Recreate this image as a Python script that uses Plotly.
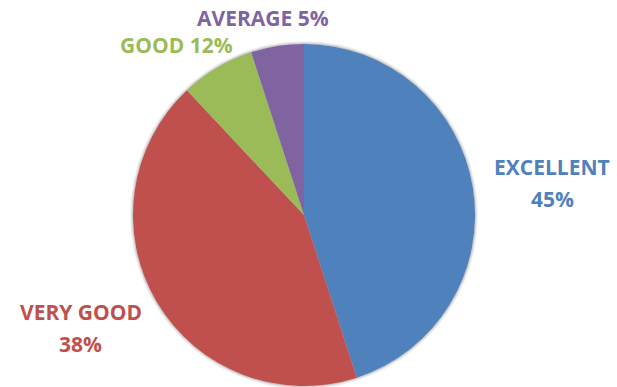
import plotly.graph_objects as go

# slice sizes as drawn; the printed percentages differ from the drawn angles
categories = ["EXCELLENT", "VERY GOOD", "GOOD", "AVERAGE"]
slice_values = [45, 43, 7, 5]
label_percents = ["45%", "38%", "12%", "5%"]
colors = ["#4F81BD", "#C0504D", "#9BBB59", "#8064A2"]

W, H = 617, 387
cx, cy, r = 304, 215, 171

fig = go.Figure(
    go.Pie(
        labels=categories,
        values=slice_values,
        sort=False,
        direction="clockwise",
        rotation=0,
        marker=dict(colors=colors, line=dict(width=0)),
        textinfo="none",
        hoverinfo="label+percent",
        domain=dict(
            x=[(cx - r) / W, (cx + r) / W],
            y=[max(0, (H - cy - r) / H), (H - cy + r) / H],
        ),
    )
)

# soft shadow behind the pie
shadow = []
for grow, op in [(3, 0.10), (2, 0.15), (1, 0.25)]:
    shadow.append(dict(
        type="circle", xref="paper", yref="paper", layer="below",
        x0=(cx - r - grow) / W, x1=(cx + r + grow) / W,
        y0=(H - cy - r - grow) / H, y1=(H - cy + r + grow) / H,
        fillcolor="#808080", opacity=op, line=dict(width=0),
    ))

# label layout in px; two-line labels are split into separate lines
label_layout = {
    "EXCELLENT": dict(x=552, y=167, split=True),
    "VERY GOOD": dict(x=81, y=312, split=True),
    "GOOD": dict(x=176, y=45, split=False),
    "AVERAGE": dict(x=263, y=18, split=False),
}
line_gap = 32

annotations = []
for name, pct, col in zip(categories, label_percents, colors):
    pos = label_layout[name]
    lines = [name, pct] if pos["split"] else [f"{name} {pct}"]
    for i, line in enumerate(lines):
        annotations.append(dict(
            text=f"<b>{line}</b>",
            x=pos["x"] / W,
            y=1 - (pos["y"] + i * line_gap) / H,
            xref="paper", yref="paper",
            xanchor="center", yanchor="middle",
            showarrow=False,
            font=dict(family="Open Sans", size=21, color=col),
        ))

fig.update_layout(
    width=W,
    height=H,
    margin=dict(l=0, r=0, t=0, b=0),
    paper_bgcolor="white",
    showlegend=False,
    shapes=shadow,
    annotations=annotations,
)

# drop the default page margin so the figure sits at the window corner
fig.write_html(
    "out.html",
    config={"displayModeBar": False},
    post_script="document.body.style.margin='0';",
)
